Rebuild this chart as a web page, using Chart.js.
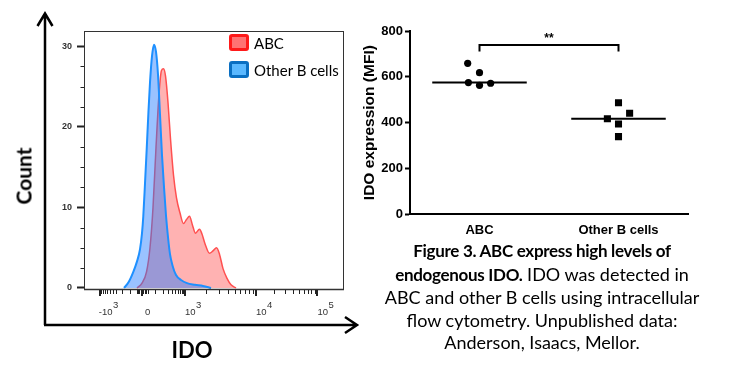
<!DOCTYPE html>
<html>
<head>
<meta charset="utf-8">
<script src="https://cdn.jsdelivr.net/npm/chart.js@4.4.1/dist/chart.umd.min.js"></script>
<style>
    html, body { margin: 0; padding: 0; background: #fff; }
    #page { position: relative; width: 735px; height: 378px; overflow: hidden; font-family: Lato, sans-serif; color: #000; }
    #histCanvas { position: absolute; left: 0; top: 0; }
    #dotCanvas { position: absolute; left: 360px; top: 0; }
    .axisTitle { position: absolute; font-weight: bold; white-space: nowrap; }
    #countTitle { left: 23px; top: 176px; transform: translate(-50%, -50%) rotate(-90deg); font-size: 21px; }
    #idoTitle { left: 192px; top: 349px; transform: translate(-50%, -50%); font-size: 22px; }
    .legendItem { position: absolute; left: 229px; height: 17px; display: flex; align-items: center; font-size: 15px; white-space: nowrap; }
    .legendBox { width: 14px; height: 11px; border: 3px solid; border-radius: 3px; margin-right: 5px; }
    #caption { position: absolute; left: 362px; width: 360px; top: 239px; text-align: center; font-size: 18px; line-height: 22.5px; }
    #caption b { font-size: 17px; letter-spacing: -0.3px; }
</style>
</head>
<body>
<div id="page">
    <canvas id="histCanvas" width="360" height="378"></canvas>
    <canvas id="dotCanvas" width="375" height="240"></canvas>
    <div id="countTitle" class="axisTitle">Count</div>
    <div id="idoTitle" class="axisTitle">IDO</div>
    <div class="legendItem" style="top:34px"><span class="legendBox" style="border-color:#ff1a1a;background:#ff7373"></span>ABC</div>
    <div class="legendItem" style="top:61px"><span class="legendBox" style="border-color:#0a6fc2;background:#5ab8ff"></span>Other B cells</div>
    <div id="caption"><b>Figure 3. ABC express high levels of<br>endogenous IDO.</b> IDO was detected in<br>ABC and other B cells using intracellular<br>flow cytometry. Unpublished data:<br>Anderson, Isaacs, Mellor.</div>
</div>
<script>
// Histograma (eje X en unidades de display, 0 = 0, 1 = 10^3)
const abcPos = [-0.116, 0, 0.105, 0.186, 0.256, 0.326, 0.395, 0.453, 0.5, 0.547, 0.605, 0.663, 0.733, 0.802, 0.884, 0.965, 1.035, 1.105, 1.174, 1.244, 1.337, 1.395, 1.465, 1.57, 1.651, 1.733, 1.802, 1.884, 1.977, 2.07, 2.186];
const abcCount = [0, 0.6, 2, 5, 10, 17.5, 24, 27, 27.2, 26.3, 23, 18.5, 14, 11.2, 9.3, 8, 8.5, 8.9, 7.8, 6.8, 7.3, 6.7, 5.5, 4.3, 4.6, 5, 4.2, 2.4, 1.2, 0.4, 0];
const otherPos = [-0.419, -0.314, -0.202, -0.116, -0.047, 0, 0.03, 0.07, 0.109, 0.151, 0.186, 0.233, 0.279, 0.326, 0.372, 0.419, 0.465, 0.512, 0.558, 0.605, 0.651, 0.709, 0.791, 0.907, 1.047, 1.233, 1.419, 1.605];
const otherCount = [0, 0.7, 2, 3.3, 4.8, 6.8, 8.9, 13, 17.2, 22, 25.5, 28.8, 30.2, 29.3, 26.5, 21.5, 16.5, 12.5, 9, 6.3, 4.2, 2.8, 1.6, 1, 0.6, 0.4, 0.25, 0];

// Etiquetas del eje X (logicle)
const idoTickPos = [-0.98, 0, 1, 2.65, 4.08];
const idoTickBase = ['-10', '0', '10', '10', '10'];
const idoTickExp = ['3', '', '3', '4', '5'];
const countTicks = [0, 10, 20, 30];

// Dot plot MFI
const groups = ['ABC', 'Other B cells'];
const abcMFI = [659, 618, 575, 563, 572];
const abcJitter = [-0.085, 0, -0.08, 0, 0.08];
const otherMFI = [487, 441, 417, 394, 339];
const otherJitter = [0, 0.08, -0.08, 0, 0];
const medians = [575, 417];
const mfiTicks = [0, 200, 400, 600, 800];
const sigLabel = '**';
const sigTop = 739;
const sigLeg = 710;

const MEDIAN_HALF = 0.34;
const AXIS_FONT = "'Liberation Sans', Arial, sans-serif";

// posicion de display para una intensidad (solo para marcas menores)
function toDisplay(v) {
    const a = Math.abs(v);
    if (a <= 1000) {
        const u = Math.asinh(a / 100) / Math.asinh(10);
        return v < 0 ? -u * 0.98 : u;
    }
    const d = Math.log10(a);
    const k = Math.min(Math.floor(d), 4);
    const p0 = idoTickPos[k - 1], p1 = idoTickPos[k];
    return p0 + (p1 - p0) * (d - k);
}

function minorValues() {
    const vals = [];
    for (let m = 1; m <= 9; m++) vals.push(-m * 100);
    for (let m = -4; m <= 4; m++) if (m !== 0) vals.push(m * 10);
    [100, 1000, 10000].forEach(dec => {
        for (let m = (dec === 100 ? 1 : 2); m <= 9; m++) vals.push(m * dec);
    });
    return vals;
}

const histDecor = {
    id: 'histDecor',
    afterDraw(chart) {
        const {ctx, chartArea: ca, scales: {x, y}} = chart;
        ctx.save();
        // caja
        ctx.strokeStyle = '#333';
        ctx.lineWidth = 1;
        ctx.strokeRect(ca.left + 0.5, ca.top + 0.5, ca.right - ca.left - 1, ca.bottom - ca.top - 1);
        ctx.lineWidth = 1.5;
        ctx.beginPath();
        ctx.moveTo(ca.left, ca.bottom - 0.5);
        ctx.lineTo(ca.right, ca.bottom - 0.5);
        ctx.stroke();

        // marcas menores Y
        ctx.lineWidth = 1;
        ctx.strokeStyle = '#222';
        for (let v = 2.5; v < 31; v += 2.5) {
            if (v % 10 === 0) continue;
            const py = Math.round(y.getPixelForValue(v)) + 0.5;
            ctx.beginPath();
            ctx.moveTo(ca.left - 3.5, py);
            ctx.lineTo(ca.left, py);
            ctx.stroke();
        }

        // marcas X
        minorValues().forEach(v => {
            const px = Math.round(x.getPixelForValue(toDisplay(v))) + 0.5;
            ctx.beginPath();
            ctx.moveTo(px, ca.bottom);
            ctx.lineTo(px, ca.bottom + 4);
            ctx.stroke();
        });
        ctx.lineWidth = 2;
        idoTickPos.forEach(p => {
            const px = Math.round(x.getPixelForValue(p));
            ctx.beginPath();
            ctx.moveTo(px, ca.bottom);
            ctx.lineTo(px, ca.bottom + 6);
            ctx.stroke();
        });

        // etiquetas X con exponente
        ctx.fillStyle = '#333';
        ctx.textBaseline = 'alphabetic';
        ctx.textAlign = 'left';
        idoTickPos.forEach((p, i) => {
            const px = x.getPixelForValue(p);
            const base = idoTickBase[i];
            const left = base === '0' ? px + 3 : px - (base.startsWith('-') ? 1 : 0);
            ctx.font = '9.5px ' + AXIS_FONT;
            ctx.fillText(base, left, 315);
            const w = ctx.measureText(base).width;
            if (idoTickExp[i]) {
                ctx.font = '9.5px ' + AXIS_FONT;
                ctx.fillText(idoTickExp[i], left + w + 0.5, 307.5);
            }
        });

        // flechas
        ctx.strokeStyle = '#000';
        ctx.lineWidth = 2.5;
        ctx.lineJoin = 'miter';
        ctx.beginPath();
        ctx.moveTo(45, 325);
        ctx.lineTo(45, 14);
        ctx.moveTo(37.5, 26);
        ctx.lineTo(45, 13.5);
        ctx.lineTo(52.5, 26);
        ctx.moveTo(44, 325);
        ctx.lineTo(356, 325);
        ctx.moveTo(345, 317);
        ctx.lineTo(357, 325);
        ctx.lineTo(345, 333);
        ctx.stroke();
        ctx.restore();
    }
};

const sigDecor = {
    id: 'sigDecor',
    afterDraw(chart) {
        const {ctx, scales: {x, y}} = chart;
        ctx.save();
        ctx.font = 'bold 12px ' + AXIS_FONT;
        ctx.fillStyle = '#000';
        ctx.textAlign = 'center';
        ctx.textBaseline = 'alphabetic';
        ctx.fillText(sigLabel, x.getPixelForValue(0.5), y.getPixelForValue(754));
        ctx.restore();
    }
};

function buildHistogram() {
    const ctx = document.getElementById('histCanvas').getContext('2d');
    return new Chart(ctx, {
        type: 'line',
        data: {
            datasets: [{
                label: 'ABC',
                data: abcPos.map((p, i) => ({x: p, y: abcCount[i]})),
                borderColor: 'rgb(255,80,80)',
                backgroundColor: 'rgba(255,0,0,0.3)',
                borderWidth: 1.5,
                fill: 'origin',
                pointRadius: 0,
                cubicInterpolationMode: 'monotone',
                order: 2
            }, {
                label: 'Other B cells',
                data: otherPos.map((p, i) => ({x: p, y: otherCount[i]})),
                borderColor: 'rgb(30,144,255)',
                backgroundColor: 'rgba(30,120,255,0.45)',
                borderWidth: 2,
                fill: 'origin',
                pointRadius: 0,
                cubicInterpolationMode: 'monotone',
                order: 1
            }]
        },
        options: {
            responsive: false,
            animation: false,
            layout: { padding: { top: 31, right: 16, left: 0, bottom: 58 } },
            plugins: { legend: { display: false }, tooltip: { enabled: false } },
            scales: {
                x: {
                    type: 'linear',
                    min: -1.349,
                    max: 4.698,
                    ticks: { display: false },
                    grid: { display: false },
                    border: { display: false },
                    afterFit: s => { s.height = 30; }
                },
                y: {
                    min: -0.25,
                    max: 31.9,
                    afterBuildTicks: s => { s.ticks = countTicks.map(v => ({value: v})); },
                    ticks: {
                        color: '#333',
                        padding: 5,
                        font: { family: AXIS_FONT, size: 9, weight: 'bold' }
                    },
                    grid: { drawOnChartArea: false, tickLength: 7, tickWidth: 2, tickColor: '#222' },
                    border: { display: false },
                    afterFit: s => { s.width = 84; }
                }
            }
        },
        plugins: [histDecor]
    });
}

function buildDotPlot() {
    const ctx = document.getElementById('dotCanvas').getContext('2d');
    const medianLine = (i) => ({
        type: 'line',
        data: [{x: i - MEDIAN_HALF, y: medians[i]}, {x: i + MEDIAN_HALF, y: medians[i]}],
        borderColor: '#000',
        borderWidth: 2,
        pointRadius: 0
    });
    return new Chart(ctx, {
        type: 'scatter',
        data: {
            datasets: [{
                label: groups[0],
                data: abcMFI.map((v, i) => ({x: 0 + abcJitter[i], y: v})),
                pointStyle: 'circle',
                pointRadius: 3.6,
                backgroundColor: '#000',
                borderColor: '#000',
                borderWidth: 0
            }, {
                label: groups[1],
                data: otherMFI.map((v, i) => ({x: 1 + otherJitter[i], y: v})),
                pointStyle: 'rect',
                pointRadius: 5,
                backgroundColor: '#000',
                borderColor: '#000',
                borderWidth: 0
            },
            medianLine(0),
            medianLine(1),
            {
                type: 'line',
                data: [{x: 0, y: sigLeg}, {x: 0, y: sigTop}, {x: 1, y: sigTop}, {x: 1, y: sigLeg}],
                borderColor: '#000',
                borderWidth: 2,
                pointRadius: 0
            }]
        },
        options: {
            responsive: false,
            animation: false,
            layout: { padding: { top: 31, right: 47, left: 0, bottom: 0 } },
            plugins: { legend: { display: false }, tooltip: { enabled: false } },
            scales: {
                x: {
                    type: 'linear',
                    min: -0.5,
                    max: 1.5,
                    afterBuildTicks: s => { s.ticks = groups.map((g, i) => ({value: i})); },
                    ticks: {
                        callback: v => groups[v],
                        color: '#000',
                        padding: 0,
                        maxRotation: 0,
                        font: { family: AXIS_FONT, size: 13, weight: 'bold' }
                    },
                    grid: { display: false },
                    border: { display: true, color: '#000', width: 2 },
                    afterFit: s => { s.height = 25.7; }
                },
                y: {
                    min: 0,
                    max: 800,
                    afterBuildTicks: s => { s.ticks = mfiTicks.map(v => ({value: v})); },
                    ticks: {
                        color: '#000',
                        padding: 2,
                        font: { family: AXIS_FONT, size: 13, weight: 'bold' }
                    },
                    grid: { drawOnChartArea: false, tickLength: 5, tickWidth: 2, tickColor: '#000' },
                    border: { display: true, color: '#000', width: 2 },
                    title: {
                        display: true,
                        text: 'IDO expression (MFI)',
                        color: '#000',
                        padding: { top: 0, bottom: 0 },
                        font: { family: AXIS_FONT, size: 15.5, weight: 'bold' }
                    },
                    afterFit: s => { s.width = 50; }
                }
            }
        },
        plugins: [sigDecor]
    });
}

document.addEventListener('DOMContentLoaded', () => {
    buildHistogram();
    buildDotPlot();
});
</script>
</body>
</html>
